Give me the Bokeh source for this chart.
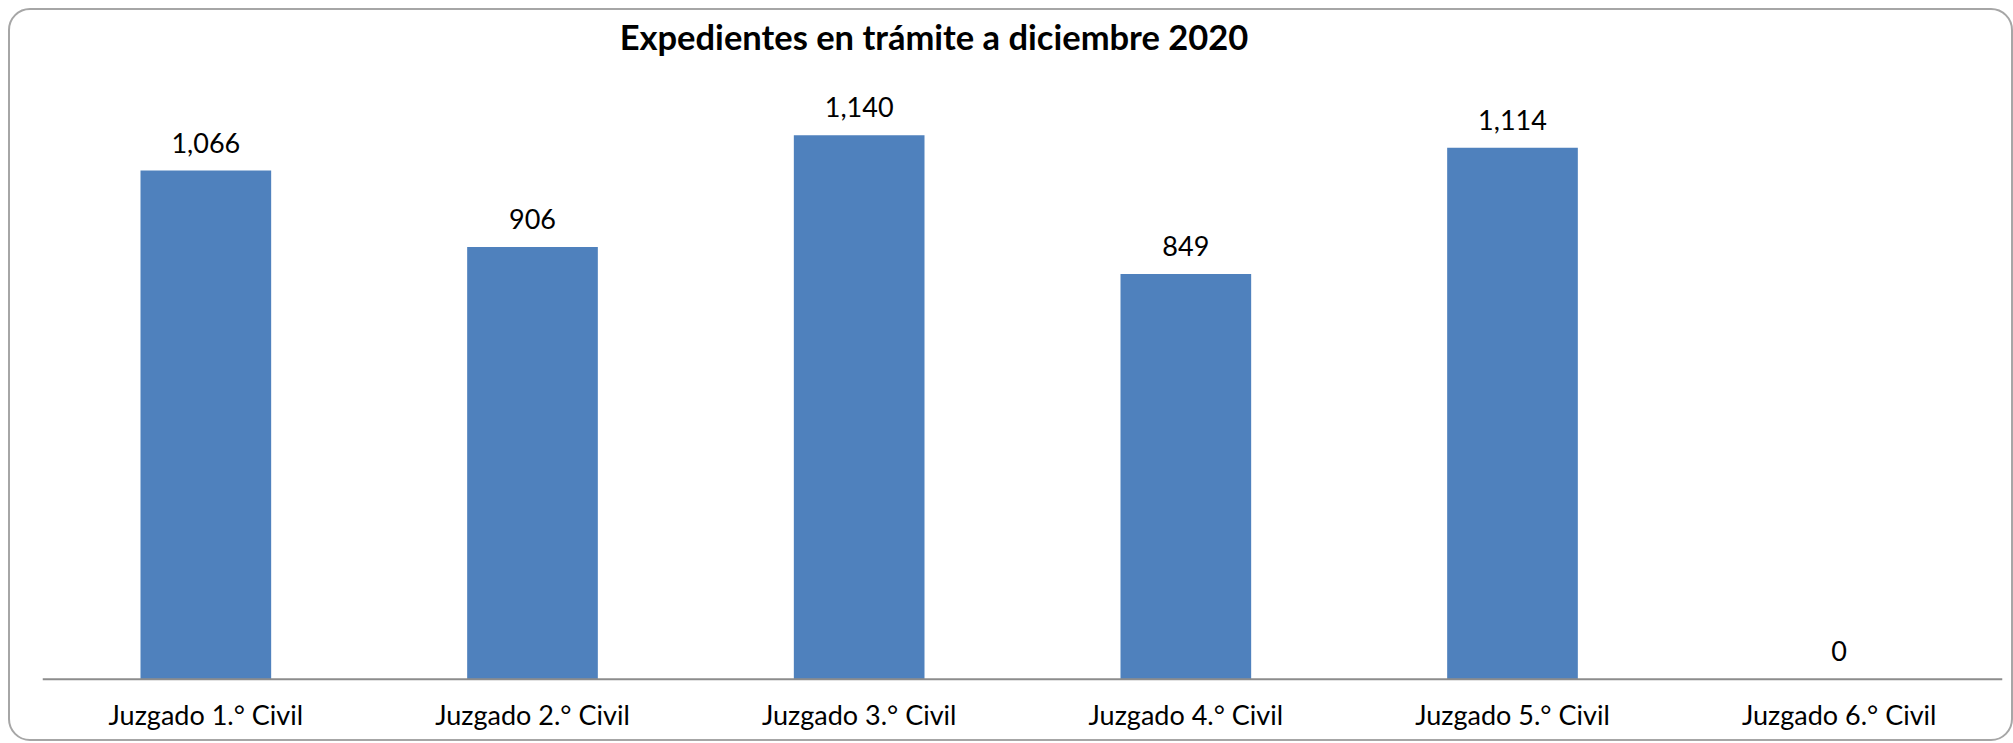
from bokeh.plotting import figure
from bokeh.models import ColumnDataSource, Label, FactorRange, Range1d, Span
from bokeh.core.properties import value
from bokeh.embed import file_html
from bokeh.resources import INLINE

title_text = "Expedientes en trámite a diciembre 2020"
categories = ["Juzgado 1.° Civil", "Juzgado 2.° Civil", "Juzgado 3.° Civil",
              "Juzgado 4.° Civil", "Juzgado 5.° Civil", "Juzgado 6.° Civil"]
expedientes = [1066, 906, 1140, 849, 1114, 0]
labels = [f"{v:,}" for v in expedientes]

src = ColumnDataSource(dict(cat=categories, val=expedientes, lab=labels))

p = figure(x_range=FactorRange(*categories, range_padding=0), y_range=Range1d(-134.9, 1401.5),
           width=2001, height=729, output_backend="svg", toolbar_location=None,
           min_border_left=32, min_border_right=13, min_border_top=0, min_border_bottom=0)
p.border_fill_color = None
p.background_fill_color = None
p.outline_line_color = None
p.grid.visible = False
p.xaxis.visible = False
p.yaxis.visible = False
p.styles = {"border": "2px solid #a6a6a6", "border-radius": "22px", "box-sizing": "content-box",
            "position": "absolute", "top": "8px", "left": "8px"}

p.vbar(x="cat", top="val", width=0.40, source=src, fill_color="#4F81BD", line_color=None)

# category axis line at zero
p.add_layout(Span(location=0, dimension="width", line_color="#8c8c8c", line_width=2))

# data labels
p.text(x="cat", y="val", text="lab", source=src, text_align="center", text_baseline="alphabetic",
       y_offset=-28, text_font=value("Lato"), text_font_size="27px", text_color="#000000")

# category labels
p.text(x="cat", y=0, text="cat", source=src, text_align="center", text_baseline="alphabetic",
       y_offset=35, text_font=value("Lato"), text_font_size="27px", text_color="#000000")

p.add_layout(Label(x=891.5, y=707, x_units="screen", y_units="screen", text=title_text,
                   text_align="center", text_baseline="alphabetic", text_font="Lato",
                   text_font_style="bold", text_font_size="34.5px", text_color="#000000"))

open("out.html", "w").write(file_html(p, INLINE))
